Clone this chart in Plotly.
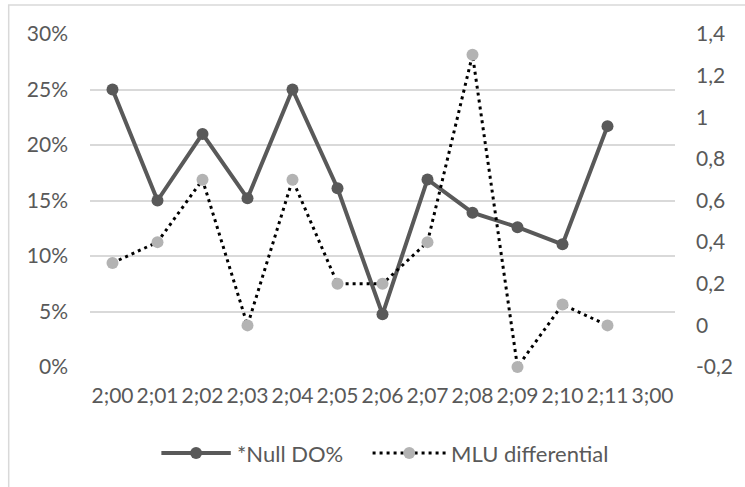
import plotly.graph_objects as go

categories = ["2;00", "2;01", "2;02", "2;03", "2;04", "2;05", "2;06",
              "2;07", "2;08", "2;09", "2;10", "2;11", "3;00"]
null_do = [0.25, 0.15, 0.21, 0.152, 0.25, 0.161, 0.0475,
           0.169, 0.139, 0.126, 0.1105, 0.217, None]
mlu_diff = [0.3, 0.4, 0.7, 0.0, 0.7, 0.2, 0.2,
            0.4, 1.3, -0.2, 0.1, 0.0, None]
series_names = ["*Null DO%", "MLU differential"]
right_tick_vals = [-0.2, 0, 0.2, 0.4, 0.6, 0.8, 1.0, 1.2, 1.4]
right_tick_text = ["-0,2", "0", "0,2", "0,4", "0,6", "0,8", "1", "1,2", "1,4"]

TXT = "#595959"
GRID = "#d9d9d9"
FONT = "Lato, 'Open Sans', sans-serif"
FS = 21

fig = go.Figure()
fig.add_trace(go.Scatter(
    x=categories, y=null_do, name=series_names[0], mode="lines+markers",
    line=dict(color="#595959", width=4),
    marker=dict(color="#595959", size=12),
    yaxis="y", showlegend=False, cliponaxis=False))
fig.add_trace(go.Scatter(
    x=categories, y=mlu_diff, name=series_names[1], mode="lines+markers",
    line=dict(color="#000000", width=3, dash="3px,4px"),
    marker=dict(color="#b3b3b3", size=12),
    yaxis="y2", showlegend=False, cliponaxis=False))

# manual legend (paper coordinates), plot area spans x 90..680 px, y 34..367 px
def px_x(p):
    return (p - 90) / 590.0

def px_y(p):
    return (367 - p) / 333.0

shapes = [
    # chart border
    dict(type="rect", xref="paper", yref="paper",
         x0=px_x(8), x1=px_x(760), y0=px_y(5), y1=px_y(500),
         line=dict(color=GRID, width=1.5), fillcolor="rgba(0,0,0,0)", layer="below"),
    dict(type="line", xref="paper", yref="paper",
         x0=px_x(162), x1=px_x(232), y0=px_y(453), y1=px_y(453),
         line=dict(color="#595959", width=4)),
    dict(type="line", xref="paper", yref="paper",
         x0=px_x(375), x1=px_x(450), y0=px_y(453), y1=px_y(453),
         line=dict(color="#000000", width=3, dash="3px,4px")),
    dict(type="circle", xref="paper", yref="paper",
         x0=px_x(191), x1=px_x(203), y0=px_y(459), y1=px_y(447),
         line=dict(width=0), fillcolor="#595959"),
    dict(type="circle", xref="paper", yref="paper",
         x0=px_x(406), x1=px_x(418), y0=px_y(459), y1=px_y(447),
         line=dict(width=0), fillcolor="#b3b3b3"),
]
annotations = [
    dict(text=series_names[0], xref="paper", yref="paper", x=px_x(236), y=px_y(453),
         xanchor="left", yanchor="middle", showarrow=False,
         font=dict(family=FONT, size=22, color=TXT)),
    dict(text=series_names[1], xref="paper", yref="paper", x=px_x(452), y=px_y(453),
         xanchor="left", yanchor="middle", showarrow=False,
         font=dict(family=FONT, size=22, color=TXT)),
]

fig.update_layout(
    width=745, height=487,
    margin=dict(l=90, r=65, t=34, b=120),
    paper_bgcolor="white", plot_bgcolor="white",
    separators=", ",
    font=dict(family=FONT, size=FS, color=TXT),
    shapes=shapes, annotations=annotations,
    showlegend=False,
    xaxis=dict(type="category", categoryorder="array", categoryarray=categories,
               range=[-0.5, 12.5], showgrid=False, zeroline=False, showline=False,
               ticks="", ticklabelstandoff=14, tickfont=dict(size=FS, color=TXT)),
    yaxis=dict(range=[0, 0.3], dtick=0.05, tickformat=".0%", showgrid=True,
               gridcolor=GRID, gridwidth=1.5, zeroline=False, showline=False,
               ticks="", ticklabelstandoff=21, tickfont=dict(size=FS, color=TXT)),
    yaxis2=dict(range=[-0.2, 1.4], tickmode="array", tickvals=right_tick_vals,
                ticktext=right_tick_text, overlaying="y", side="right",
                showgrid=False, zeroline=False, showline=False, ticks="",
                ticklabelstandoff=20, tickfont=dict(size=FS, color=TXT)),
)

fig.write_html("out.html")
